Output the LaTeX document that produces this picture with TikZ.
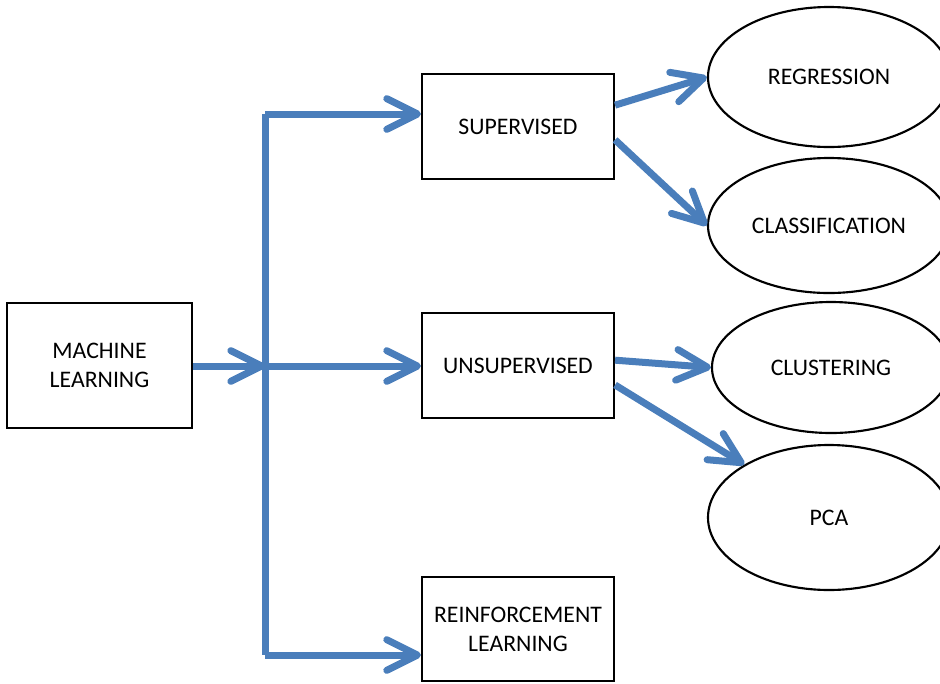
\documentclass[tikz,border=0pt]{standalone}
\usepackage{fontspec}
\setmainfont{Carlito}
\usetikzlibrary{arrows.meta,shapes.geometric}
\definecolor{flowblue}{RGB}{74,126,187}
\begin{document}
\begin{tikzpicture}[x=0.75pt,y=-0.75pt,
  every node/.style={font=\fontsize{17.8}{21.8}\selectfont, align=center, inner sep=0pt},
  box/.style={draw=black, line width=1.6pt, rectangle, minimum width=144pt, minimum height=78.75pt},
  oval/.style={draw=black, line width=1.6pt, ellipse, minimum width=181.5pt},
  flow/.style={draw=flowblue, line width=5.25pt, line join=miter,
    -{Straight Barb[length=23pt,width=23pt,round]}},
  flowline/.style={draw=flowblue, line width=5.25pt, line join=miter}]
\clip (0,0) rectangle (940,683);
\useasboundingbox (0,0) rectangle (940,683);

% boxes
\node[box, minimum width=138.75pt, minimum height=93.75pt] (ml) at (99.5,365.5) {MACHINE\\LEARNING};
\node[box] (sup) at (518,126.5) {SUPERVISED};
\node[box] (uns) at (518,365.5) {UNSUPERVISED};
\node[box, minimum height=78pt] (rl) at (518,629) {REINFORCEMENT\\LEARNING};

% ellipses
\node[oval, minimum height=105pt] (reg) at (829,77) {REGRESSION};
\node[oval, minimum height=101.25pt] (cls) at (829,225.5) {CLASSIFICATION};
\node[oval, minimum width=178.5pt, minimum height=98.25pt] (clu) at (831,367.5) {CLUSTERING};
\node[oval, minimum height=108.75pt] (pca) at (829,517.5) {PCA};

% branching bracket
\coordinate (jt) at (265,114);
\coordinate (jm) at (265,366);
\coordinate (jb) at (265,655);

\draw[flowline] (jt) -- (jb);
\draw[flow] (jt) -- (sup.west |- jt);
\draw[flow] (jb) -- (rl.west |- jb);
\draw[flow] (jm) -- (uns.west |- jm);
\draw[flow] (ml.east |- jm) -- (jm);

% second level
\draw[flow] ([yshift=16pt]sup.east) -- (reg.west);
\draw[flow] ([yshift=-10pt]sup.east) -- (cls.west);
\draw[flow] ([yshift=4pt]uns.east) -- (clu.west);
\draw[flow] ([yshift=-14.6pt]uns.east) -- (pca.148);
\end{tikzpicture}
\end{document}
